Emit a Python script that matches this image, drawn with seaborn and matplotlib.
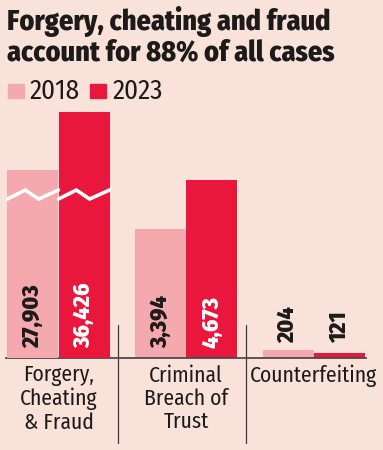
import matplotlib
matplotlib.use("Agg")
import matplotlib.pyplot as plt
import matplotlib.transforms as mtransforms
from matplotlib.patches import Rectangle
import seaborn as sns
import pandas as pd

# ── data ────────────────────────────────────────────────────────────
categories = ["Forgery,\nCheating\n& Fraud", "Criminal\nBreach of\nTrust", "Counterfeiting"]
years = ["2018", "2023"]
cases_2018 = [27903, 3394, 204]
cases_2023 = [36426, 4673, 121]

PALE = "#f4a9ae"
RED = "#e8173b"
BG = "#f9e2d9"
INK = "#1d1a1a"

df = pd.DataFrame({
    "category": categories * 2,
    "year": [years[0]] * 3 + [years[1]] * 3,
    "cases": cases_2018 + cases_2023,
})
# first group sits on its own (broken) scale
broken = df["category"] == categories[0]

sns.set_theme(style="white")
plt.rcParams["font.family"] = ["Fira Sans Condensed", "Roboto Condensed", "DejaVu Sans"]

W, H = 383, 450
fig = plt.figure(figsize=(W / 100, H / 100), dpi=100, facecolor=BG)
ax = fig.add_axes([0, (H - 358) / H, 1, 253 / H])
ax.patch.set_visible(False)
axb = ax.twinx()

palette = {years[0]: PALE, years[1]: RED}
common = dict(x="category", y="cases", hue="year", order=categories, hue_order=years,
              palette=palette, width=0.8, saturation=1, errorbar=None, legend=False,
              linewidth=0)
sns.barplot(data=df[~broken], ax=ax, **common)
sns.barplot(data=df[broken], ax=axb, **common)

ax.set_xlim(-58.5 / 127.5, (W - 58.5) / 127.5)
ax.set_ylim(0, 253 / 0.03809)
axb.set_ylim(0, 253 / 0.006745)

for a in (ax, axb):
    for s in a.spines.values():
        s.set_visible(False)
    a.set_yticks([])
    a.set_ylabel("")
    a.set_xlabel("")
ax.spines["bottom"].set_visible(True)
ax.spines["bottom"].set_bounds(-0.41, 2.41)
ax.spines["bottom"].set_color("#4a4a4a")
ax.spines["bottom"].set_linewidth(1.3)
ax.tick_params(axis="x", length=0, pad=5, labelsize=15.5, labelcolor=INK)
for t in ax.get_xticklabels():
    t.set_linespacing(1.1)

# zigzag break marks on the first group
brk_lo, brk_hi = 23570, 24900
for bar in axb.patches:
    if bar.get_height() > 0:
        x0, w = bar.get_x(), bar.get_width()
        axb.plot([x0, x0 + 0.35 * w, x0 + 0.61 * w, x0 + w],
                 [brk_lo, brk_hi, brk_lo, brk_hi], color="white", lw=2.6,
                 solid_joinstyle="miter", zorder=5)

# value labels
for a in (ax, axb):
    for cont, yr in zip(a.containers, years):
        for bar in cont:
            h = bar.get_height()
            if not h or h != h:
                continue
            cx = bar.get_x() + bar.get_width() / 2
            px = a.transData.transform((0, h))[1] - a.transData.transform((0, 0))[1]
            if px > 60:
                off, col = 7.2, (INK if yr == years[0] else "white")
            else:
                off, col = 10.8, INK
            a.annotate(f"{int(h):,}", xy=(cx, 0), xytext=(0, off), textcoords="offset points",
                       rotation=90, ha="center", va="bottom", fontsize=17,
                       fontweight="heavy", color=col, zorder=6)

# group dividers
blend = mtransforms.blended_transform_factory(ax.transData, ax.transAxes)
for xd in (0.47, 1.47):
    ax.plot([xd, xd], [0.13, -0.335], transform=blend, clip_on=False,
            color="#3a3a3a", lw=0.9)

# title
fig.text(7 / W, 1 - 30 / H, "Forgery, cheating and fraud", fontsize=20.2,
         fontweight="heavy", color=INK, va="baseline", ha="left")
fig.text(7 / W, 1 - 61 / H, "account for 88% of all cases", fontsize=20.2,
         fontweight="heavy", color=INK, va="baseline", ha="left")

# legend
for lx, tx, col, lab in [(8, 30, PALE, years[0]), (90, 113, RED, years[1])]:
    fig.patches.append(Rectangle((lx / W, 1 - 98 / H), 16 / W, 14 / H,
                                 transform=fig.transFigure, color=col))
    fig.text(tx / W, 1 - 99 / H, lab, fontsize=19.5, color=INK, va="baseline", ha="left")

fig.savefig("out.png", dpi=100, facecolor=BG)
